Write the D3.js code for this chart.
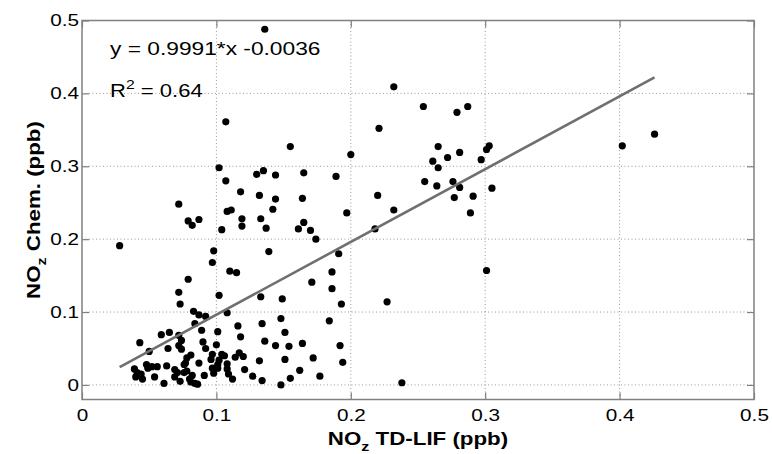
<!DOCTYPE html>
<html>
<head>
<meta charset="utf-8">
<script src="https://cdn.jsdelivr.net/npm/d3@7"></script>
<style>
  body { margin: 0; background: #fff; }
  svg text { font-family: "Liberation Sans", Arial, Helvetica, sans-serif; }
</style>
</head>
<body>
<div id="chart"></div>
<script>
// NOz TD-LIF (x) vs NOz Chem. (y), ppb
const tdLif = [
  0.136, 0.232, 0.254, 0.279, 0.287, 0.221, 0.107, 0.155, 0.200, 0.265,
  0.261, 0.272, 0.281, 0.265, 0.297, 0.301, 0.303, 0.255, 0.264, 0.276,
  0.281, 0.277, 0.291, 0.289, 0.305, 0.220, 0.232, 0.197, 0.218, 0.301,
  0.227, 0.194, 0.238, 0.402, 0.426,
  0.102, 0.107, 0.130, 0.135, 0.144, 0.165, 0.189, 0.118, 0.132, 0.144,
  0.164, 0.108, 0.111, 0.142, 0.119, 0.133, 0.119, 0.104, 0.137, 0.161,
  0.165, 0.170, 0.174, 0.139, 0.098, 0.191, 0.110, 0.115, 0.186, 0.171,
  0.186, 0.102, 0.133, 0.149, 0.193, 0.097,
  0.072, 0.079, 0.082, 0.087, 0.028, 0.079, 0.072, 0.073,
  0.108, 0.101, 0.116, 0.134, 0.148, 0.184, 0.118, 0.151, 0.136, 0.144,
  0.154, 0.164, 0.192, 0.100, 0.104, 0.106, 0.117, 0.120, 0.114, 0.132,
  0.151, 0.172, 0.101, 0.101, 0.108, 0.108, 0.109, 0.121, 0.112, 0.127,
  0.134, 0.162, 0.155, 0.177, 0.148,
  0.083, 0.087, 0.092, 0.084, 0.089, 0.059, 0.065, 0.072, 0.074, 0.043,
  0.064, 0.072, 0.074, 0.090, 0.092, 0.050, 0.081, 0.078, 0.097, 0.096,
  0.087, 0.077, 0.039, 0.041, 0.040, 0.044, 0.048, 0.049, 0.052, 0.056,
  0.054, 0.063, 0.061, 0.069, 0.071, 0.069, 0.073, 0.076, 0.078, 0.076,
  0.080, 0.081, 0.082, 0.084, 0.086, 0.091, 0.097, 0.098, 0.045, 0.102
];
const chem = [
  0.488, 0.409, 0.382, 0.374, 0.382, 0.352, 0.361, 0.327, 0.316, 0.327,
  0.307, 0.312, 0.319, 0.298, 0.309, 0.323, 0.328, 0.279, 0.273, 0.279,
  0.271, 0.257, 0.259, 0.236, 0.270, 0.260, 0.240, 0.236, 0.214, 0.157,
  0.114, 0.031, 0.003, 0.328, 0.344,
  0.298, 0.280, 0.289, 0.294, 0.288, 0.291, 0.286, 0.265, 0.260, 0.255,
  0.256, 0.238, 0.240, 0.241, 0.228, 0.228, 0.218, 0.213, 0.215, 0.214,
  0.223, 0.212, 0.200, 0.183, 0.184, 0.180, 0.156, 0.154, 0.155, 0.141,
  0.132, 0.123, 0.121, 0.118, 0.111, 0.168,
  0.248, 0.225, 0.219, 0.227, 0.191, 0.145, 0.127, 0.111,
  0.099, 0.073, 0.081, 0.084, 0.091, 0.088, 0.066, 0.072, 0.060, 0.054,
  0.053, 0.057, 0.054, 0.055, 0.042, 0.040, 0.044, 0.039, 0.038, 0.033,
  0.035, 0.037, 0.028, 0.023, 0.029, 0.022, 0.015, 0.021, 0.008, 0.012,
  0.006, 0.020, 0.009, 0.012, 0.000,
  0.101, 0.096, 0.094, 0.084, 0.075, 0.069, 0.072, 0.068, 0.061, 0.058,
  0.050, 0.054, 0.049, 0.059, 0.050, 0.046, 0.041, 0.037, 0.042, 0.035,
  0.030, 0.030, 0.022, 0.017, 0.011, 0.015, 0.028, 0.023, 0.025, 0.025,
  0.011, 0.026, 0.002, 0.021, 0.017, 0.011, 0.005, 0.017, 0.019, 0.028,
  0.008, 0.004, 0.013, 0.002, 0.001, 0.013, 0.023, 0.016, 0.008, 0.034
];

const xTicks = [0, 0.1, 0.2, 0.3, 0.4, 0.5];
const yTicks = [0, 0.1, 0.2, 0.3, 0.4, 0.5];
const fitSlope = 0.9991;
const fitIntercept = -0.0036;
const fitText = "y = 0.9991*x -0.0036";
const r2Value = "0.64";

var width = 772;
var height = 454;
var margin = { left: 82, right: 18, top: 20.5, bottom: 54.5 };

// the exported figure has its lettering a bit stretched sideways
var stretch = 1.22;

var x = d3.scaleLinear().domain([0, 0.5]).range([margin.left, width - margin.right]);
var y = d3.scaleLinear().domain([-0.02, 0.5]).range([height - margin.bottom, margin.top]);

var svg = d3.select("#chart").append("svg")
    .attr("width", width)
    .attr("height", height);

svg.append("rect").attr("width", width).attr("height", height).attr("fill", "#fff");

var frameColor = "#808080";
var tickLen = 7;

// grid lines (dotted)
svg.append("g").selectAll("line")
    .data(xTicks.slice(1, -1))
    .join("line")
    .attr("x1", d => x(d)).attr("x2", d => x(d))
    .attr("y1", y.range()[0]).attr("y2", y.range()[1])
    .attr("stroke", "#999").attr("stroke-width", 1).attr("stroke-dasharray", "1,2.5");

svg.append("g").selectAll("line")
    .data(yTicks)
    .join("line")
    .attr("x1", x.range()[0]).attr("x2", x.range()[1])
    .attr("y1", d => y(d)).attr("y2", d => y(d))
    .attr("stroke", "#999").attr("stroke-width", 1).attr("stroke-dasharray", "1,2.5");

// axes: ticks inward, labels outside
var fmt = d => d === 0 ? "0" : d3.format(".1f")(d);

var xAxis = svg.append("g")
    .attr("transform", `translate(0,${y.range()[0]})`)
    .call(d3.axisBottom(x).tickValues(xTicks).tickSize(-tickLen).tickPadding(9).tickFormat(fmt));
var yAxis = svg.append("g")
    .attr("transform", `translate(${x.range()[0]},0)`)
    .call(d3.axisLeft(y).tickValues(yTicks).tickSize(-tickLen).tickPadding(2.5).tickFormat(fmt));
var xTop = svg.append("g")
    .attr("transform", `translate(0,${y.range()[1]})`)
    .call(d3.axisTop(x).tickValues(xTicks).tickSize(-tickLen).tickFormat(""));
var yRight = svg.append("g")
    .attr("transform", `translate(${x.range()[1]},0)`)
    .call(d3.axisRight(y).tickValues(yTicks).tickSize(-tickLen).tickFormat(""));

[xAxis, yAxis, xTop, yRight].forEach(g => {
    g.select(".domain").remove();
    g.selectAll(".tick line").attr("stroke", frameColor).attr("stroke-width", 1.2);
    g.selectAll(".tick text")
        .attr("fill", "#000")
        .attr("transform", `scale(${stretch},1)`)
        .style("font-size", "17px");
});

// box
svg.append("rect")
    .attr("x", x.range()[0]).attr("y", y.range()[1])
    .attr("width", x.range()[1] - x.range()[0])
    .attr("height", y.range()[0] - y.range()[1])
    .attr("fill", "none").attr("stroke", frameColor).attr("stroke-width", 1.5);

// points
svg.append("g").selectAll("circle")
    .data(d3.range(tdLif.length))
    .join("circle")
    .attr("cx", i => x(tdLif[i]))
    .attr("cy", i => y(chem[i]))
    .attr("r", 3.6)
    .attr("fill", "#000");

// fitted line
var xExt = d3.extent(tdLif);
svg.append("line")
    .attr("x1", x(xExt[0])).attr("y1", y(fitSlope * xExt[0] + fitIntercept))
    .attr("x2", x(xExt[1])).attr("y2", y(fitSlope * xExt[1] + fitIntercept))
    .attr("stroke", "#6f6f6f").attr("stroke-width", 2.6);

// annotations
svg.append("text")
    .attr("transform", `translate(110,55) scale(1.3,1)`)
    .style("font-size", "17.5px")
    .text(fitText);

var r2 = svg.append("text")
    .attr("transform", `translate(110,97) scale(1.26,1)`)
    .style("font-size", "17.5px");
r2.append("tspan").text("R");
r2.append("tspan").attr("dy", -8).style("font-size", "12.5px").text("2");
r2.append("tspan").attr("dy", 8).text(" = " + r2Value);

// axis titles
var xTitle = svg.append("text")
    .attr("transform", `translate(${(x.range()[0] + x.range()[1]) / 2},445) scale(1.24,1)`)
    .attr("text-anchor", "middle")
    .style("font-size", "18px")
    .style("font-weight", "bold");
xTitle.append("tspan").text("NO");
xTitle.append("tspan").attr("dy", 6).style("font-size", "13px").text("z");
xTitle.append("tspan").attr("dy", -6).text(" TD-LIF (ppb)");

var yTitle = svg.append("text")
    .attr("transform", `translate(40,${(y.range()[0] + y.range()[1]) / 2}) rotate(-90) scale(1.24,1)`)
    .attr("text-anchor", "middle")
    .style("font-size", "18px")
    .style("font-weight", "bold");
yTitle.append("tspan").text("NO");
yTitle.append("tspan").attr("dy", 6).style("font-size", "13px").text("z");
yTitle.append("tspan").attr("dy", -6).text(" Chem. (ppb)");
</script>
</body>
</html>
